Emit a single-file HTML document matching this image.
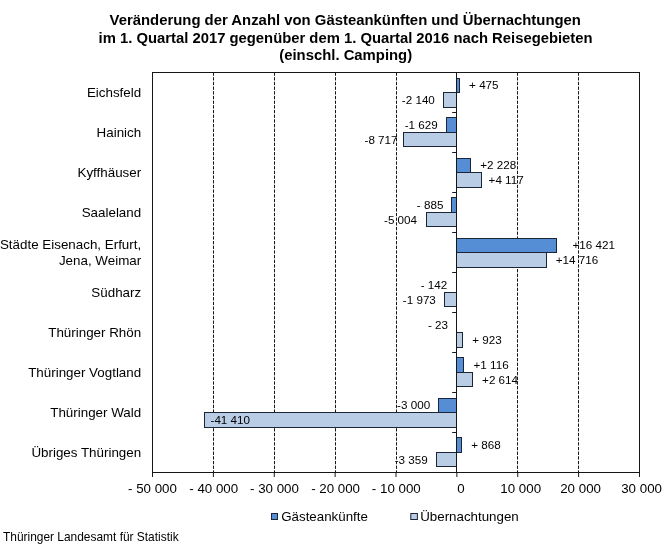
<!DOCTYPE html>
<html lang="de">
<head>
<meta charset="utf-8">
<title>Veränderung der Anzahl von Gästeankünften und Übernachtungen</title>
<style>
html,body{margin:0;padding:0;background:#fff;}
body{width:668px;height:550px;overflow:hidden;}
svg{display:block;}
text{font-family:"Liberation Sans",sans-serif;fill:#000;}
.t{font-weight:bold;font-size:14.85px;text-anchor:middle;}
.y{font-size:13.38px;text-anchor:end;}
.x{font-size:13.33px;text-anchor:middle;}
.d{font-size:11.67px;}
.l{font-size:13.33px;}
.f{font-size:11.93px;}
</style>
</head>
<body>
<svg width="668" height="550" viewBox="0 0 668 550">
<rect width="668" height="550" fill="#fff"/>
<text class="t" x="345.25" y="25.4" style="font-size:14.88px">Veränderung der Anzahl von Gästeankünften und Übernachtungen</text>
<text class="t" x="345.6" y="42.9" style="font-size:14.82px">im 1. Quartal 2017 gegenüber dem 1. Quartal 2016 nach Reisegebieten</text>
<text class="t" x="345.7" y="59.5">(einschl. Camping)</text>
<line x1="213.50" y1="72.50" x2="213.50" y2="472.50" stroke="#161616" stroke-width="1" stroke-dasharray="3.3 1.38"/>
<line x1="274.50" y1="72.50" x2="274.50" y2="472.50" stroke="#161616" stroke-width="1" stroke-dasharray="3.3 1.38"/>
<line x1="335.50" y1="72.50" x2="335.50" y2="472.50" stroke="#161616" stroke-width="1" stroke-dasharray="3.3 1.38"/>
<line x1="396.50" y1="72.50" x2="396.50" y2="472.50" stroke="#161616" stroke-width="1" stroke-dasharray="3.3 1.38"/>
<line x1="517.50" y1="72.50" x2="517.50" y2="472.50" stroke="#161616" stroke-width="1" stroke-dasharray="3.3 1.38"/>
<line x1="578.50" y1="72.50" x2="578.50" y2="472.50" stroke="#161616" stroke-width="1" stroke-dasharray="3.3 1.38"/>
<rect x="152.50" y="72.50" width="487.00" height="400.00" fill="none" stroke="#161616" stroke-width="1"/>
<line x1="152.50" y1="472.50" x2="152.50" y2="477.00" stroke="#161616" stroke-width="1"/>
<line x1="213.38" y1="472.50" x2="213.38" y2="477.00" stroke="#161616" stroke-width="1"/>
<line x1="274.25" y1="472.50" x2="274.25" y2="477.00" stroke="#161616" stroke-width="1"/>
<line x1="335.12" y1="472.50" x2="335.12" y2="477.00" stroke="#161616" stroke-width="1"/>
<line x1="396.00" y1="472.50" x2="396.00" y2="477.00" stroke="#161616" stroke-width="1"/>
<line x1="456.88" y1="472.50" x2="456.88" y2="477.00" stroke="#161616" stroke-width="1"/>
<line x1="517.75" y1="472.50" x2="517.75" y2="477.00" stroke="#161616" stroke-width="1"/>
<line x1="578.62" y1="472.50" x2="578.62" y2="477.00" stroke="#161616" stroke-width="1"/>
<line x1="639.50" y1="472.50" x2="639.50" y2="477.00" stroke="#161616" stroke-width="1"/>
<rect x="456.5" y="78.5" width="3.0" height="14.0" fill="#558ED5" stroke="#1c2536" stroke-width="1"/>
<rect x="443.5" y="92.5" width="13.0" height="15.0" fill="#B9CDE5" stroke="#1c2536" stroke-width="1"/>
<rect x="446.5" y="117.5" width="10.0" height="15.0" fill="#558ED5" stroke="#1c2536" stroke-width="1"/>
<rect x="403.5" y="132.5" width="53.0" height="14.0" fill="#B9CDE5" stroke="#1c2536" stroke-width="1"/>
<rect x="456.5" y="158.5" width="14.0" height="14.0" fill="#558ED5" stroke="#1c2536" stroke-width="1"/>
<rect x="456.5" y="172.5" width="25.0" height="15.0" fill="#B9CDE5" stroke="#1c2536" stroke-width="1"/>
<rect x="451.5" y="197.5" width="5.0" height="15.0" fill="#558ED5" stroke="#1c2536" stroke-width="1"/>
<rect x="426.5" y="212.5" width="30.0" height="14.0" fill="#B9CDE5" stroke="#1c2536" stroke-width="1"/>
<rect x="456.5" y="238.5" width="100.0" height="14.0" fill="#558ED5" stroke="#1c2536" stroke-width="1"/>
<rect x="456.5" y="252.5" width="90.0" height="15.0" fill="#B9CDE5" stroke="#1c2536" stroke-width="1"/>
<rect x="444.5" y="292.5" width="12.0" height="14.0" fill="#B9CDE5" stroke="#1c2536" stroke-width="1"/>
<rect x="456.5" y="332.5" width="6.0" height="15.0" fill="#B9CDE5" stroke="#1c2536" stroke-width="1"/>
<rect x="456.5" y="357.5" width="7.0" height="15.0" fill="#558ED5" stroke="#1c2536" stroke-width="1"/>
<rect x="456.5" y="372.5" width="16.0" height="14.0" fill="#B9CDE5" stroke="#1c2536" stroke-width="1"/>
<rect x="438.5" y="398.5" width="18.0" height="14.0" fill="#558ED5" stroke="#1c2536" stroke-width="1"/>
<rect x="204.5" y="412.5" width="252.0" height="15.0" fill="#B9CDE5" stroke="#1c2536" stroke-width="1"/>
<rect x="456.5" y="437.5" width="5.0" height="15.0" fill="#558ED5" stroke="#1c2536" stroke-width="1"/>
<rect x="436.5" y="452.5" width="20.0" height="14.0" fill="#B9CDE5" stroke="#1c2536" stroke-width="1"/>
<line x1="456.50" y1="72.50" x2="456.50" y2="472.50" stroke="#161616" stroke-width="1"/>
<line x1="452.20" y1="72.50" x2="456.50" y2="72.50" stroke="#161616" stroke-width="1"/>
<line x1="452.20" y1="112.50" x2="456.50" y2="112.50" stroke="#161616" stroke-width="1"/>
<line x1="452.20" y1="152.50" x2="456.50" y2="152.50" stroke="#161616" stroke-width="1"/>
<line x1="452.20" y1="192.50" x2="456.50" y2="192.50" stroke="#161616" stroke-width="1"/>
<line x1="452.20" y1="232.50" x2="456.50" y2="232.50" stroke="#161616" stroke-width="1"/>
<line x1="452.20" y1="272.50" x2="456.50" y2="272.50" stroke="#161616" stroke-width="1"/>
<line x1="452.20" y1="312.50" x2="456.50" y2="312.50" stroke="#161616" stroke-width="1"/>
<line x1="452.20" y1="352.50" x2="456.50" y2="352.50" stroke="#161616" stroke-width="1"/>
<line x1="452.20" y1="392.50" x2="456.50" y2="392.50" stroke="#161616" stroke-width="1"/>
<line x1="452.20" y1="432.50" x2="456.50" y2="432.50" stroke="#161616" stroke-width="1"/>
<line x1="452.20" y1="472.50" x2="456.50" y2="472.50" stroke="#161616" stroke-width="1"/>
<text class="y" x="141.2" y="97.10">Eichsfeld</text>
<text class="y" x="141.2" y="137.10">Hainich</text>
<text class="y" x="141.2" y="177.10">Kyffhäuser</text>
<text class="y" x="141.2" y="217.10">Saaleland</text>
<text class="y" x="141.2" y="249.20">Städte Eisenach, Erfurt,</text>
<text class="y" x="141.2" y="265.20">Jena, Weimar</text>
<text class="y" x="141.2" y="297.10">Südharz</text>
<text class="y" x="141.2" y="337.10">Thüringer Rhön</text>
<text class="y" x="141.2" y="377.10">Thüringer Vogtland</text>
<text class="y" x="141.2" y="417.10">Thüringer Wald</text>
<text class="y" x="141.2" y="457.10">Übriges Thüringen</text>
<text class="x" x="152.50" y="493.2">- 50 000</text>
<text class="x" x="213.70" y="493.2">- 40 000</text>
<text class="x" x="274.50" y="493.2">- 30 000</text>
<text class="x" x="335.60" y="493.2">- 20 000</text>
<text class="x" x="396.30" y="493.2">- 10 000</text>
<text class="x" x="461.00" y="493.2">0</text>
<text class="x" x="520.70" y="493.2">10 000</text>
<text class="x" x="580.60" y="493.2">20 000</text>
<text class="x" x="641.60" y="493.2">30 000</text>
<text class="d" x="469.1" y="89.1">+ 475</text>
<text class="d" x="401.8" y="103.7">-2 140</text>
<text class="d" x="404.7" y="129.1">-1 629</text>
<text class="d" x="364.5" y="143.7">-8 717</text>
<text class="d" x="480.3" y="169.1">+2 228</text>
<text class="d" x="488.6" y="183.7">+4 117</text>
<text class="d" x="416.8" y="209.1">- 885</text>
<text class="d" x="384.0" y="223.7">-5 004</text>
<text class="d" x="572.5" y="249.1">+16 421</text>
<text class="d" x="555.8" y="263.7">+14 716</text>
<text class="d" x="420.7" y="289.1">- 142</text>
<text class="d" x="402.8" y="303.7">-1 973</text>
<text class="d" x="427.9" y="329.1">- 23</text>
<text class="d" x="472.2" y="343.7">+ 923</text>
<text class="d" x="473.5" y="369.1">+1 116</text>
<text class="d" x="482.1" y="383.7">+2 614</text>
<text class="d" x="397.1" y="409.1">-3 000</text>
<text class="d" x="210.5" y="423.7">-41 410</text>
<text class="d" x="471.3" y="449.1">+ 868</text>
<text class="d" x="394.7" y="463.7">-3 359</text>
<rect x="271.5" y="513.5" width="6" height="6" fill="#558ED5" stroke="#1c2536" stroke-width="1"/>
<text class="l" x="281.2" y="520.6">Gästeankünfte</text>
<rect x="410.8" y="513.5" width="6.6" height="6" fill="#B9CDE5" stroke="#1c2536" stroke-width="1"/>
<text class="l" x="420.2" y="520.6">Übernachtungen</text>
<text class="f" x="3" y="541">Thüringer Landesamt für Statistik</text>
</svg>
</body>
</html>
